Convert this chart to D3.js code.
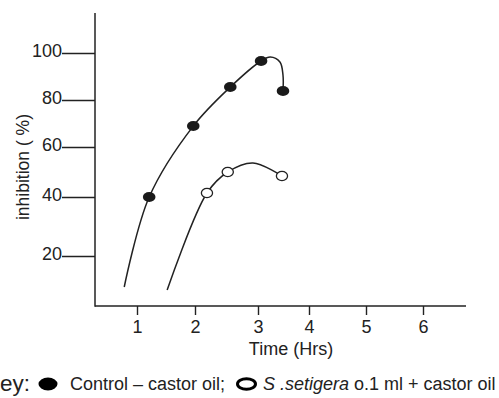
<!DOCTYPE html>
<html>
<head>
<meta charset="utf-8">
<script src="https://cdn.jsdelivr.net/npm/d3@7"></script>
<style>
	body { margin: 0; background: #fff; }
	svg { display: block; font-family: "Liberation Sans", Arial, sans-serif; }
	.axis text { font-size: 18px; fill: #222; }
	.axis line { stroke: #222; stroke-width: 1.4; }
</style>
</head>
<body>
<div id="chart"></div>
<script>
// tick labels
var xTicks = [1, 2, 3, 4, 5, 6];
var yTicks = [20, 40, 60, 80, 100];

// measured points (time in hrs, inhibition %)
var controlPoints = [[1.21, 40], [1.97, 68.9], [2.56, 85.5], [3.06, 96.6], [3.49, 83.8]];
var setigeraPoints = [[2.19, 41.6], [2.52, 50], [3.47, 48.4]];

// hand drawn trend lines through the points
var controlCurve = [[0.78, 7.6], [1.21, 40], [1.97, 68.9], [2.56, 85.5], [3.06, 96.6],
	[3.24, 98.3], [3.43, 96.2], [3.49, 90.6], [3.49, 83.8]];
var setigeraCurve = [[1.52, 6.4], [2.19, 41.6], [2.52, 50], [2.92, 53.6], [3.47, 48.4]];

var width = 499,
	height = 398;

var svg = d3.select('#chart').append('svg')
	.attr('width', width)
	.attr('height', height);

// the drawn axes are not evenly spaced, so the scales are piecewise
var xScale = d3.scaleLinear()
	.domain([1, 2, 3, 4, 5, 6])
	.range([137, 195, 258, 309, 366, 423]);
var yScale = d3.scaleLinear()
	.domain([0, 20, 40, 60, 80, 100])
	.range([306, 256, 197, 147, 100, 53]);

var originX = 95,
	originY = 306;

// axis lines
svg.append('line')
	.attr('x1', originX).attr('x2', originX)
	.attr('y1', 13).attr('y2', originY + 0.7)
	.attr('stroke', '#222').attr('stroke-width', 1.5);
svg.append('line')
	.attr('x1', originX).attr('x2', 466)
	.attr('y1', originY).attr('y2', originY)
	.attr('stroke', '#222').attr('stroke-width', 1.5);

var xAxis = d3.axisBottom(xScale)
	.tickValues(xTicks)
	.tickSize(9)
	.tickPadding(5)
	.tickFormat(d3.format('d'));
var yAxis = d3.axisLeft(yScale)
	.tickValues(yTicks)
	.tickSize(33)
	.tickPadding(0)
	.tickFormat(d3.format('d'));

var gx = svg.append('g')
	.attr('class', 'axis x')
	.attr('transform', 'translate(0,' + originY + ')')
	.call(xAxis);
gx.select('.domain').remove();
gx.selectAll('text').attr('font-family', null).attr('font-size', null);

var gy = svg.append('g')
	.attr('class', 'axis y')
	.attr('transform', 'translate(' + originX + ',0)')
	.call(yAxis);
gy.select('.domain').remove();
gy.selectAll('text')
	.attr('font-family', null).attr('font-size', null)
	.attr('dy', '0.22em');

// axis titles
svg.append('text')
	.attr('x', 291).attr('y', 355)
	.attr('text-anchor', 'middle')
	.attr('font-size', 18).attr('fill', '#222')
	.text('Time (Hrs)');

svg.append('text')
	.attr('transform', 'translate(29,167) rotate(-90)')
	.attr('text-anchor', 'middle')
	.attr('font-size', 17.5).attr('fill', '#222')
	.text('inhibition ( %)');

// trend lines
var line = d3.line()
	.x((d) => xScale(d[0]))
	.y((d) => yScale(d[1]))
	.curve(d3.curveCatmullRom.alpha(0.5));

svg.selectAll('path.trend')
	.data([controlCurve, setigeraCurve])
	.enter().append('path')
	.attr('class', 'trend')
	.attr('d', line)
	.attr('fill', 'none')
	.attr('stroke', '#222')
	.attr('stroke-width', 1.5);

// markers
svg.selectAll('ellipse.control')
	.data(controlPoints)
	.enter().append('ellipse')
	.attr('class', 'control')
	.attr('cx', (d) => xScale(d[0]))
	.attr('cy', (d) => yScale(d[1]))
	.attr('rx', 6.3)
	.attr('ry', 5)
	.attr('fill', '#1a1a1a');

svg.selectAll('ellipse.setigera')
	.data(setigeraPoints)
	.enter().append('ellipse')
	.attr('class', 'setigera')
	.attr('cx', (d) => xScale(d[0]))
	.attr('cy', (d) => yScale(d[1]))
	.attr('rx', 5.6)
	.attr('ry', 4.6)
	.attr('fill', '#fff')
	.attr('stroke', '#222')
	.attr('stroke-width', 1.3);

// key (its first letter runs off the left edge, as in the original)
var key = svg.append('g').attr('class', 'key');
key.append('text')
	.attr('x', -15).attr('y', 391)
	.attr('font-size', 22.5).attr('fill', '#222')
	.text('Key:');
key.append('ellipse')
	.attr('cx', 48).attr('cy', 384)
	.attr('rx', 9.5).attr('ry', 6.5)
	.attr('fill', '#000');
key.append('text')
	.attr('x', 70).attr('y', 389.5)
	.attr('font-size', 18).attr('fill', '#222')
	.text('Control \u2013 castor oil;');
key.append('ellipse')
	.attr('cx', 246.5).attr('cy', 384)
	.attr('rx', 9).attr('ry', 5.2)
	.attr('fill', '#fff')
	.attr('stroke', '#000')
	.attr('stroke-width', 3);
var t = key.append('text')
	.attr('x', 263).attr('y', 389.5)
	.attr('font-size', 18).attr('fill', '#222');
t.append('tspan').attr('font-style', 'italic').text('S .setigera');
t.append('tspan').text(' o.1 ml + castor oil');
</script>
</body>
</html>
